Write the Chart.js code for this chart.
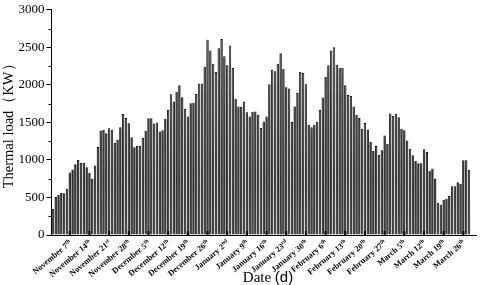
<!DOCTYPE html>
<html>
<head>
<meta charset="utf-8">
<script src="https://cdn.jsdelivr.net/npm/chart.js@4.4.1/dist/chart.umd.min.js"></script>
<style>
  html, body { margin: 0; padding: 0; background: #fff; }
  #wrap { width: 480px; height: 285px; }
</style>
</head>
<body>
<div id="wrap"><canvas id="loadChart" width="480" height="285"></canvas></div>
<script>
// daily thermal load (KW), Nov 1 onwards (heating season)
const loadValues = [
  350, 505, 535, 558, 556, 617, 832, 874, 942, 1000, 962, 962, 902, 827, 748, 925, 1171, 1391, 1400, 1355,
  1423, 1402, 1226, 1272, 1434, 1612, 1557, 1489, 1301, 1170, 1185, 1185, 1295, 1390, 1555, 1555, 1485, 1500, 1380, 1395,
  1550, 1667, 1875, 1780, 1908, 1996, 1835, 1678, 1580, 1754, 1758, 1877, 2018, 2018, 2240, 2601, 2457, 2281, 2171, 2489,
  2610, 2380, 2260, 2525, 2224, 1812, 1711, 1705, 1777, 1636, 1577, 1642, 1645, 1601, 1426, 1513, 1579, 2009, 2202, 2180,
  2281, 2421, 2215, 1968, 1952, 1507, 1711, 1890, 2171, 2158, 2009, 1470, 1434, 1470, 1510, 1667, 1831, 2106, 2260, 2457,
  2500, 2268, 2228, 2228, 1996, 1864, 1851, 1711, 1601, 1557, 1417, 1491, 1404, 1241, 1119, 1184, 1066, 1128, 1325, 1215,
  1620, 1585, 1615, 1570, 1417, 1395, 1259, 1149, 1062, 987, 956, 956, 1141, 1105, 855, 886, 754, 430, 404, 470,
  483, 518, 649, 649, 702, 680, 996, 996, 869
];

// weekly tick labels [text, superscript], first one falls on day index 6 (Nov 7th)
const weekLabels = [
  ["November 7", "th"], ["November 14", "th"], ["November 21", "st"], ["November 28", "th"],
  ["December 5", "th"], ["December 12", "th"], ["December 19", "th"], ["December 26", "th"],
  ["January 2", "nd"], ["January 9", "th"], ["January 16", "th"], ["January 23", "rd"],
  ["January 30", "th"], ["February 6", "th"], ["February 13", "th"], ["February 20", "th"],
  ["February 27", "th"], ["March 5", "th"], ["March 12", "th"], ["March 19", "th"], ["March 26", "th"]
];
const firstLabelDay = 6;
const yTicks = [0, 500, 1000, 1500, 2000, 2500, 3000];

// one category per day, Nov 1 .. Mar 30 (leap-year February)
const dayCount = 151;
const days = [];
for (let i = 0; i < dayCount; i++) {
  const d = new Date(2015, 10, 1 + i);
  days.push((d.getMonth() + 1) + "/" + d.getDate());
}

const serif = "'Liberation Serif', 'DejaVu Serif', serif";
const sans = "'Liberation Sans', Arial, sans-serif";

// minor y ticks, inward x ticks, rotated date labels with superscripts, x title
const axisMarks = {
  id: "axisMarks",
  afterDraw(chart) {
    const { ctx, chartArea, scales } = chart;
    ctx.save();
    ctx.strokeStyle = "#000";
    ctx.lineWidth = 1;
    for (let v = 250; v < 3000; v += 500) {
      const y = Math.round(scales.y.getPixelForValue(v)) + 0.5;
      ctx.beginPath();
      ctx.moveTo(chartArea.left - 3, y);
      ctx.lineTo(chartArea.left, y);
      ctx.stroke();
    }
    ctx.fillStyle = "#000";
    weekLabels.forEach(([txt, sup], k) => {
      const x = scales.x.getPixelForValue(firstLabelDay + 7 * k);
      ctx.fillRect(x - 1, chartArea.bottom - 4, 2, 4);

      ctx.save();
      ctx.translate(x + 1, chartArea.bottom + 7);
      ctx.rotate(-40 * Math.PI / 180);
      ctx.textBaseline = "middle";
      ctx.textAlign = "right";
      ctx.font = "bold 5.5px " + serif;
      const sw = ctx.measureText(sup).width;
      ctx.fillText(sup, 0, -2.5);
      ctx.font = "bold 8.3px " + serif;
      ctx.fillText(txt, -sw, 0);
      ctx.restore();
    });

    // x axis title: "Date" in serif, "(d)" in sans
    ctx.textBaseline = "alphabetic";
    ctx.textAlign = "left";
    ctx.font = "15px " + serif;
    const w1 = ctx.measureText("Date ").width;
    ctx.font = "15px " + sans;
    const w2 = ctx.measureText("(d)").width;
    const x0 = 268 - (w1 + w2) / 2;
    ctx.font = "15px " + serif;
    ctx.fillText("Date ", x0, 282);
    ctx.font = "15px " + sans;
    ctx.fillText("(d)", x0 + w1, 282);
    ctx.restore();
  }
};

const barFill = (c) => {
  const ca = c.chart.chartArea;
  if (!ca) return "#222";
  const g = c.chart.ctx.createLinearGradient(0, ca.top, 0, ca.bottom);
  g.addColorStop(0, "#5a5a5a");
  g.addColorStop(0.4, "#262626");
  g.addColorStop(0.75, "#0c0c0c");
  g.addColorStop(1, "#1c1c1c");
  return g;
};

new Chart(document.getElementById("loadChart").getContext("2d"), {
  type: "bar",
  data: {
    labels: days,
    datasets: [{
      label: "Thermal load",
      data: loadValues,
      backgroundColor: barFill,
      borderColor: "#000",
      borderWidth: 0.8,
      barPercentage: 0.86,
      categoryPercentage: 1
    }]
  },
  options: {
    responsive: false,
    animation: false,
    layout: { padding: { left: 2, right: 4, top: 0, bottom: 50 } },
    plugins: {
      legend: { display: false },
      tooltip: { enabled: false }
    },
    scales: {
      x: {
        offset: true,
        grid: { display: false, drawTicks: false },
        border: { color: "#000", width: 1 },
        ticks: { display: false },
        title: { display: false }
      },
      y: {
        min: 0,
        max: 3000,
        afterBuildTicks: (s) => { s.ticks = yTicks.map(v => ({ value: v })); },
        grid: { drawOnChartArea: false, drawTicks: true, tickLength: 5, color: "#000" },
        border: { color: "#000", width: 1 },
        ticks: {
          padding: 2,
          color: "#000",
          font: { family: serif, size: 13 },
          callback: (v) => String(v)
        },
        title: {
          display: true,
          text: "Thermal load（KW）",
          color: "#000",
          font: { family: serif, size: 14.5, lineHeight: 1 },
          padding: { top: 0, bottom: 0 }
        }
      }
    }
  },
  plugins: [axisMarks]
});
</script>
</body>
</html>
